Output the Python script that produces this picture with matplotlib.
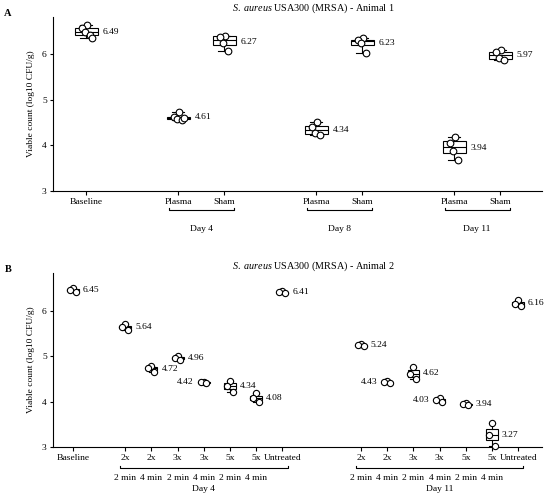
import matplotlib
matplotlib.use("Agg")
import matplotlib.pyplot as plt
import numpy as np

plt.rcParams['font.family'] = ['Liberation Serif', 'DejaVu Serif']
plt.rcParams['mathtext.fontset'] = 'custom'
plt.rcParams['mathtext.rm'] = 'Liberation Serif'
plt.rcParams['mathtext.it'] = 'Liberation Serif:italic'

# ---------------- Panel A data ----------------
A_pos = [0, 2, 3, 5, 6, 8, 9]
A_ticklabels = ['Baseline', 'Plasma', 'Sham', 'Plasma', 'Sham', 'Plasma', 'Sham']
A_values = [
    [6.64, 6.56, 6.49, 6.42, 6.34],
    [4.72, 4.62, 4.58, 4.55, 4.60],
    [6.40, 6.38, 6.24, 6.06],
    [4.50, 4.40, 4.26, 4.22],
    [6.35, 6.30, 6.25, 6.02],
    [4.19, 4.06, 3.88, 3.67],
    [6.08, 6.04, 5.91, 5.86],
]
A_means = ['6.49', '4.61', '6.27', '4.34', '6.23', '3.94', '5.97']
A_meanvals = [6.49, 4.61, 6.27, 4.34, 6.23, 3.94, 5.97]
A_groups = [('Day 4', 2, 3), ('Day 8', 5, 6), ('Day 11', 8, 9)]

# ---------------- Panel B data ----------------
B_pos = [0, 2, 3, 4, 5, 6, 7, 8, 11, 12, 13, 14, 15, 16, 17]
B_ticklabels = ['Baseline', '2x', '2x', '3x', '3x', '5x', '5x', 'Untreated',
                '2x', '2x', '3x', '3x', '5x', '5x', 'Untreated']
B_sublabels = ['', '2 min', '4 min', '2 min', '4 min', '2 min', '4 min', '',
               '2 min', '4 min', '2 min', '4 min', '2 min', '4 min', '']
B_values = [
    [6.49, 6.45, 6.41],
    [5.70, 5.64, 5.58],
    [4.78, 4.73, 4.65],
    [5.00, 4.96, 4.92],
    [4.44, 4.42, 4.40],
    [4.46, 4.34, 4.22],
    [4.18, 4.07, 3.99],
    [6.43, 6.41, 6.39],
    [5.26, 5.24, 5.22],
    [4.45, 4.43, 4.41],
    [4.77, 4.61, 4.49],
    [4.08, 4.03, 3.98],
    [3.96, 3.94, 3.92],
    [3.52, 3.27, 3.02],
    [6.23, 6.15, 6.10],
]
B_means = ['6.45', '5.64', '4.72', '4.96', '4.42', '4.34', '4.08', '6.41',
           '5.24', '4.43', '4.62', '4.03', '3.94', '3.27', '6.16']
B_meanvals = [6.45, 5.64, 4.72, 4.96, 4.42, 4.34, 4.08, 6.41,
              5.24, 4.43, 4.62, 4.03, 3.94, 3.27, 6.16]
B_side = ['r', 'r', 'r', 'r', 'l', 'r', 'r', 'r',
          'r', 'l', 'r', 'l', 'r', 'r', 'r']
B_groups = [('Day 4', 2, 8), ('Day 11', 11, 17)]

FS = 6.8
LW = 0.8

fig = plt.figure(figsize=(5.5, 4.99), dpi=100)
axA = fig.add_axes([53/550, 1-191/499, 489/550, 174/499])
axB = fig.add_axes([53/550, 1-447/499, 489/550, 174/499])


def style_axis(ax):
    for s in ['top', 'right']:
        ax.spines[s].set_visible(False)
    for s in ['left', 'bottom']:
        ax.spines[s].set_linewidth(LW)
    ax.tick_params(axis='both', direction='out', width=LW, labelsize=FS)
    ax.tick_params(axis='y', length=2.5, pad=2)
    ax.tick_params(axis='x', length=3, pad=2)
    ax.set_yticks([3, 4, 5, 6])
    ax.set_ylabel('Viable count (log10 CFU/g)', fontsize=FS, labelpad=5)


def draw_boxes(ax, pos, vals, width, offsets, msize):
    ax.boxplot(vals, positions=pos, widths=width, whis=(0, 100),
               showfliers=False, patch_artist=True, manage_ticks=False,
               boxprops=dict(facecolor='white', edgecolor='black', linewidth=LW),
               medianprops=dict(color='black', linewidth=LW),
               whiskerprops=dict(color='black', linewidth=LW),
               capprops=dict(color='black', linewidth=LW),
               capwidths=width*0.5)
    for p, v in zip(pos, vals):
        offs = offsets[:len(v)]
        ax.plot(np.array(offs) + p, v, 'o', ms=msize, mfc='white', mec='black',
                mew=LW, zorder=4, clip_on=False)


# ---------------- Panel A ----------------
axA.set_xlim(-0.72, 9.91)
axA.set_ylim(3, 6.81)
style_axis(axA)
draw_boxes(axA, A_pos, A_values, 0.5, [0.02, -0.1, -0.03, 0.08, 0.12], 4.8)
axA.set_xticks(A_pos)
axA.set_xticklabels(A_ticklabels)
for p, t, m in zip(A_pos, A_means, A_meanvals):
    axA.annotate(t, (p + 0.25, m), xytext=(3.5, 0), textcoords='offset points',
                 ha='left', va='center', fontsize=FS)
trA = axA.get_xaxis_transform()
for name, a, b in A_groups:
    x0, x1 = a - 0.2, b + 0.22
    axA.plot([x0, x0, x1, x1], [-0.097, -0.109, -0.109, -0.097], color='black',
             lw=LW, transform=trA, clip_on=False)
    axA.text((a + b) / 2, -0.218, name, transform=trA, ha='center', va='center',
             fontsize=FS)

# ---------------- Panel B ----------------
axB.set_xlim(-0.76, 17.91)
axB.set_ylim(3, 6.83)
style_axis(axB)
draw_boxes(axB, B_pos, B_values, 0.45, [0.0, -0.12, 0.1], 4.5)
axB.set_xticks(B_pos)
axB.set_xticklabels(B_ticklabels)
for p, t, m, s in zip(B_pos, B_means, B_meanvals, B_side):
    if s == 'r':
        axB.annotate(t, (p + 0.22, m), xytext=(3, 0), textcoords='offset points',
                     ha='left', va='center', fontsize=FS)
    else:
        axB.annotate(t, (p - 0.22, m), xytext=(-3, 0), textcoords='offset points',
                     ha='right', va='center', fontsize=FS)
trB = axB.get_xaxis_transform()
for p, s in zip(B_pos, B_sublabels):
    if s:
        axB.text(p, -0.178, s, transform=trB, ha='center', va='center', fontsize=FS)
for name, a, b in B_groups:
    x0, x1 = a - 0.2, b + 0.2
    axB.plot([x0, x0, x1, x1], [-0.112, -0.122, -0.122, -0.112], color='black',
             lw=LW, transform=trB, clip_on=False)
    axB.text((a + b) / 2, -0.243, name, transform=trB, ha='center', va='center',
             fontsize=FS)

# titles and panel letters
fig.text(313/550, 1-8/499, r'$\it{S.\ aureus}$ USA300 (MRSA) - Animal 1',
         ha='center', va='center', fontsize=7.3)
fig.text(313/550, 1-266/499, r'$\it{S.\ aureus}$ USA300 (MRSA) - Animal 2',
         ha='center', va='center', fontsize=7.3)
fig.text(8/550, 1-13/499, 'A', ha='center', va='center', fontsize=7.5,
         fontweight='bold')
fig.text(8/550, 1-269/499, 'B', ha='center', va='center', fontsize=7.5,
         fontweight='bold')

fig.savefig('out.png', dpi=100)
